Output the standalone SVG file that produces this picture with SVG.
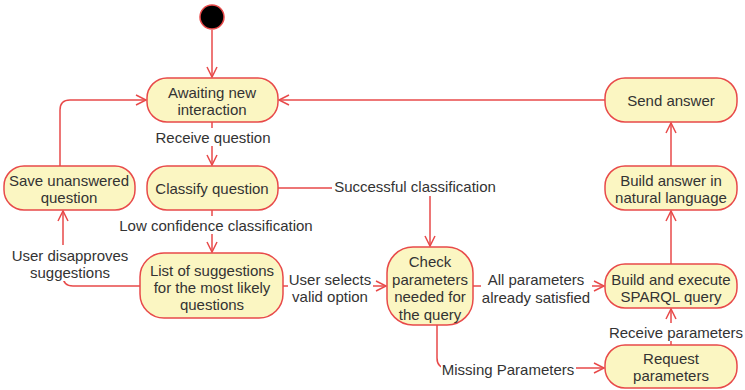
<svg xmlns="http://www.w3.org/2000/svg" width="745" height="390" viewBox="0 0 745 390">
<style>
.n{fill:#fbf6c2;stroke:#e84a4a;stroke-width:1.5}
.t{font-family:"Liberation Sans",Arial,sans-serif;font-size:15px;fill:#333;text-anchor:middle;dominant-baseline:central}
.e{fill:none;stroke:#e84a4a;stroke-width:1.5;marker-end:url(#a)}
.bg{fill:#fff}
</style>
<defs>
<marker id="a" markerUnits="userSpaceOnUse" markerWidth="12" markerHeight="12" refX="10" refY="5" orient="auto" overflow="visible">
<path d="M0,0 L10,5 L0,10" fill="none" stroke="#e84a4a" stroke-width="1.5"/>
</marker>
</defs>
<rect width="745" height="390" fill="#fff"/>
<g id="connectors">
<path class="e" d="M212,30 L212,77"/>
<path class="e" d="M212,122 L212,165"/>
<path class="e" d="M60,166 L60,110 Q60,100 70,100 L146,100"/>
<path class="e" d="M605,100 L279,100"/>
<path class="e" d="M671,166 L671,123"/>
<path class="e" d="M212,210 L212,252"/>
<path class="e" d="M278,188 L430,188 L430,246"/>
<path class="e" d="M140,286 L73,286 Q63,286 63,276 L63,211"/>
<path class="e" d="M283,286 L386,286"/>
<path class="e" d="M473,286 L604,286"/>
<path class="e" d="M671,264 L671,211"/>
<path class="e" d="M671,345 L671,309"/>
<path class="e" d="M437,325 L437,358 Q437,368 447,368 L604,368"/>
</g>
<g id="labels">
<rect class="bg" x="153" y="128" width="120" height="18"/>
<text class="t" x="213" y="137">Receive question</text>
<rect class="bg" x="117" y="216" width="199" height="18"/>
<text class="t" x="216" y="225">Low confidence classification</text>
<rect class="bg" x="332" y="177" width="166" height="19"/>
<text class="t" x="415" y="186">Successful classification</text>
<rect class="bg" x="10" y="245" width="121" height="36"/>
<text class="t" x="70" y="255">User disapproves</text>
<text class="t" x="70" y="272">suggestions</text>
<rect class="bg" x="288" y="270" width="85" height="35"/>
<text class="t" x="330" y="279">User selects</text>
<text class="t" x="330" y="296">valid option</text>
<rect class="bg" x="481" y="270" width="111" height="36"/>
<text class="t" x="536" y="279">All parameters</text>
<text class="t" x="536" y="297">already satisfied</text>
<rect class="bg" x="607" y="323" width="138" height="18"/>
<text class="t" x="676" y="332">Receive parameters</text>
<rect class="bg" x="441" y="360" width="135" height="18"/>
<text class="t" x="508" y="369">Missing Parameters</text>
</g>
<g id="start"><circle cx="212" cy="17" r="12" fill="#000" stroke="#e84a4a" stroke-width="1.5"/></g>
<g id="awaiting"><rect class="n" x="147" y="78" width="131" height="44" rx="20"/>
<text class="t" x="212" y="92">Awaiting new</text><text class="t" x="212" y="109">interaction</text></g>
<g id="classify"><rect class="n" x="147" y="166" width="131" height="44" rx="20"/>
<text class="t" x="212" y="188">Classify question</text></g>
<g id="save"><rect class="n" x="4" y="166" width="131" height="44" rx="20"/>
<text class="t" x="69" y="180">Save unanswered</text><text class="t" x="69" y="197">question</text></g>
<g id="send"><rect class="n" x="605" y="78" width="132" height="44" rx="20"/>
<text class="t" x="671" y="100">Send answer</text></g>
<g id="buildanswer"><rect class="n" x="605" y="166" width="132" height="44" rx="20"/>
<text class="t" x="671" y="180">Build answer in</text><text class="t" x="671" y="197">natural language</text></g>
<g id="suggestions"><rect class="n" x="140" y="253" width="143" height="65" rx="24"/>
<text class="t" x="212" y="270">List of suggestions</text><text class="t" x="212" y="287">for the most likely</text><text class="t" x="212" y="304">questions</text></g>
<g id="check"><rect class="n" x="387" y="247" width="86" height="78" rx="26"/>
<text class="t" x="430" y="261">Check</text><text class="t" x="430" y="279">parameters</text><text class="t" x="430" y="296">needed for</text><text class="t" x="430" y="314">the query</text></g>
<g id="sparql"><rect class="n" x="605" y="264" width="132" height="44" rx="20"/>
<text class="t" x="671" y="279">Build and execute</text><text class="t" x="671" y="296">SPARQL query</text></g>
<g id="request"><rect class="n" x="605" y="345" width="132" height="43" rx="20"/>
<text class="t" x="671" y="358">Request</text><text class="t" x="671" y="375">parameters</text></g>
</svg>
